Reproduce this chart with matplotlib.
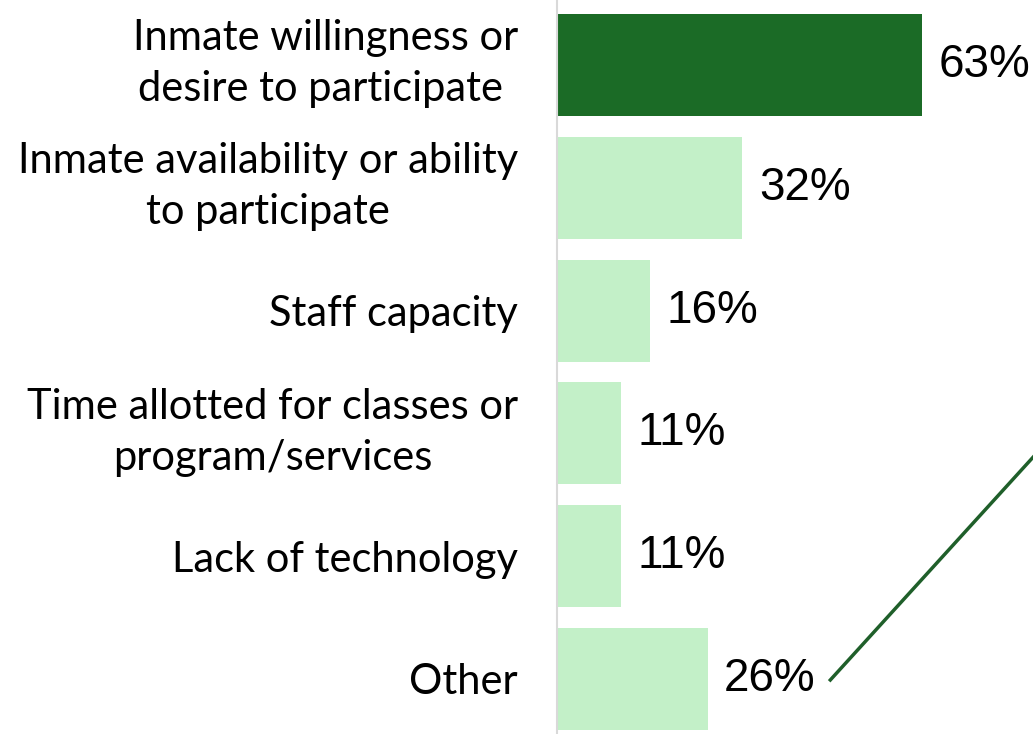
import matplotlib.pyplot as plt
from matplotlib.transforms import ScaledTranslation

# Data
categories = ['Inmate willingness or\ndesire to participate ',
              'Inmate availability or ability\nto participate',
              'Staff capacity',
              'Time allotted for classes or\nprogram/services',
              'Lack of technology',
              'Other']
values = [63, 32, 16, 11, 11, 26]
colors = ['#1b6b26', '#c3f0c8', '#c3f0c8', '#c3f0c8', '#c3f0c8', '#c3f0c8']

fig = plt.figure(figsize=(10.33, 7.34), dpi=100)
ax = fig.add_axes([557 / 1033, 0, 476 / 1033, 1])

pos = list(range(len(categories)))
ax.barh(pos, values, height=0.83, color=colors)

ax.set_xlim(0, 82.2)
ax.set_ylim(5.448, -0.53)

# Value labels
for p, v in zip(pos, values):
    ax.annotate(f'{v}%', xy=(v, p), xytext=(12, 0), textcoords='offset points',
                ha='left', va='center', fontsize=33, family='Liberation Sans')

# Category labels
ax.set_yticks(pos)
ax.set_yticklabels(categories, fontsize=30, family='Lato', multialignment='center',
                   linespacing=1.42)
ax.tick_params(axis='y', length=0, pad=28)
ax.set_xticks([])

# nudge the two-line labels up a bit
for lbl in ax.get_yticklabels():
    if '\n' in lbl.get_text():
        lbl.set_transform(lbl.get_transform() + ScaledTranslation(0, 8 / 72, fig.dpi_scale_trans))

for s in ['top', 'right', 'bottom']:
    ax.spines[s].set_visible(False)
ax.spines['left'].set_color('#d9d9d9')
ax.spines['left'].set_linewidth(1.5)

# Connector line leaving the chart from "Other"
ax.plot([47.2, 90], [5.008, 2.79], color='#1f5f2a', linewidth=2.5, clip_on=True)

fig.savefig('out.png', dpi=100)
